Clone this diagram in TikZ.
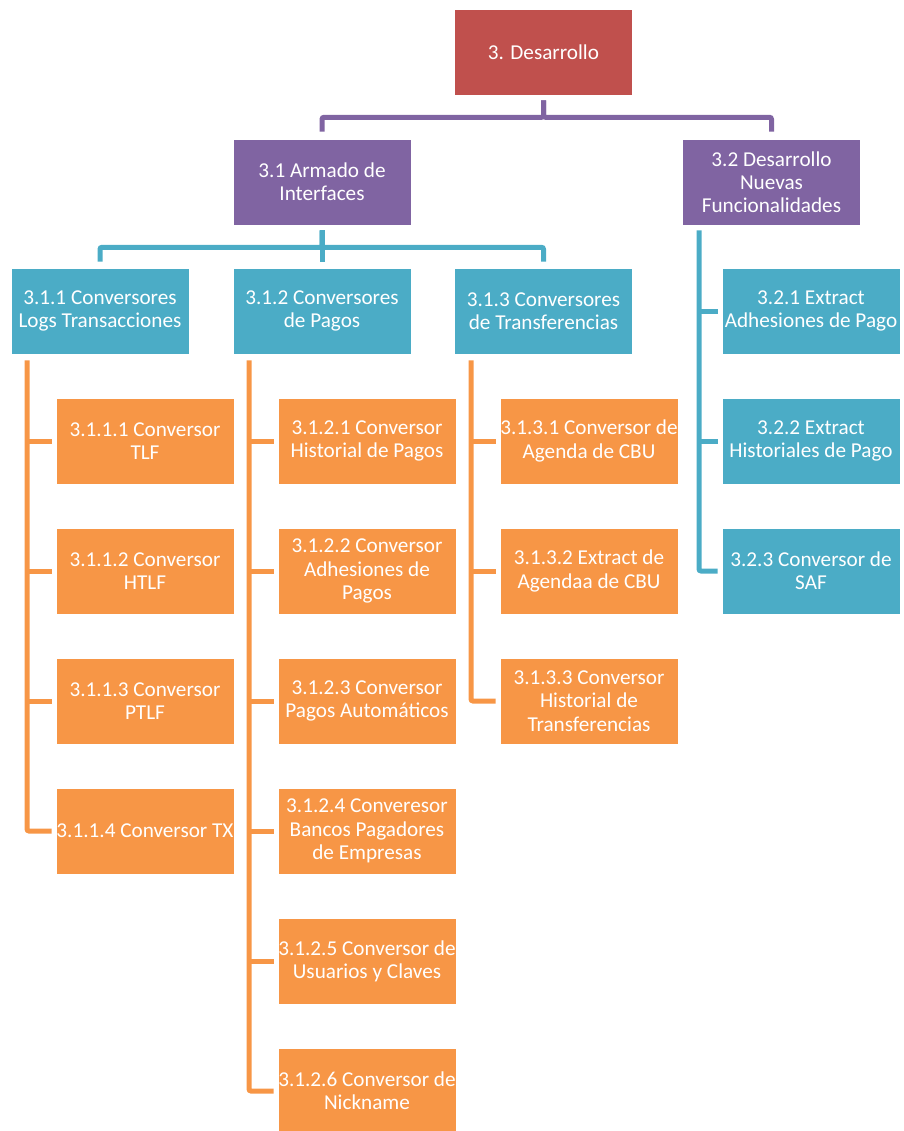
\documentclass[tikz,border=0pt]{standalone}
\usepackage{fontspec}
\setmainfont{Carlito}
\definecolor{rootred}{HTML}{C0504D}
\definecolor{lvlpurple}{HTML}{8064A2}
\definecolor{lvlblue}{HTML}{4BACC6}
\definecolor{lvlorange}{HTML}{F79646}
\begin{document}
\begin{tikzpicture}[x=1pt,y=-1pt,
  box/.style={rectangle, minimum width=178pt, minimum height=86pt, inner sep=0pt,
    align=center, text=white, draw=white, line width=0.6pt,
    font=\fontsize{21.2}{23.2}\selectfont},
  rootbox/.style={box, fill=rootred},
  pbox/.style={box, fill=lvlpurple},
  bbox/.style={box, fill=lvlblue},
  obox/.style={box, fill=lvlorange},
  link/.style={line width=5pt, rounded corners=2pt},
  plink/.style={link, draw=lvlpurple},
  blink/.style={link, draw=lvlblue},
  olink/.style={link, draw=lvlorange}]
\useasboundingbox (0,0) rectangle (903,1131);

% top level
\node[rootbox] (root) at (543.5,52) {3. Desarrollo};

% second level
\node[pbox] (n31) at (322,182) {3.1 Armado de\\Interfaces};
\node[pbox] (n32) at (771.5,182) {3.2 Desarrollo\\Nuevas\\Funcionalidades};

% third level
\node[bbox] (n311) at (100,311) {3.1.1 Conversores\\Logs Transacciones};
\node[bbox] (n312) at (322,311) {3.1.2 Conversores\\de Pagos};
\node[bbox] (n313) at (543.5,311) {3.1.3 Conversores\\de Transferencias};

\node[bbox] (n321) at (811,311) {3.2.1 Extract\\Adhesiones de Pago};
\node[bbox] (n322) at (811,441) {3.2.2 Extract\\Historiales de Pago};
\node[bbox] (n323) at (811,571) {3.2.3 Conversor de\\SAF};

% fourth level
\node[obox] (n3111) at (145,441) {3.1.1.1 Conversor\\TLF};
\node[obox] (n3112) at (145,571) {3.1.1.2 Conversor\\HTLF};
\node[obox] (n3113) at (145,701) {3.1.1.3 Conversor\\PTLF};
\node[obox] (n3114) at (145,831) {3.1.1.4 Conversor TX};

\node[obox] (n3121) at (367,441) {3.1.2.1 Conversor\\Historial de Pagos};
\node[obox] (n3122) at (367,571) {3.1.2.2 Conversor\\Adhesiones de\\Pagos};
\node[obox] (n3123) at (367,701) {3.1.2.3 Conversor\\Pagos Automáticos};
\node[obox] (n3124) at (367,831) {3.1.2.4 Converesor\\Bancos Pagadores\\de Empresas};
\node[obox] (n3125) at (367,961) {3.1.2.5 Conversor de\\Usuarios y Claves};
\node[obox] (n3126) at (367,1091) {3.1.2.6 Conversor de\\Nickname};

\node[obox] (n3131) at (589,441) {3.1.3.1 Conversor de\\Agenda de CBU};
\node[obox] (n3132) at (589,571) {3.1.3.2 Extract de\\Agendaa de CBU};
\node[obox] (n3133) at (589,701) {3.1.3.3 Conversor\\Historial de\\Transferencias};

% root to second level
\draw[plink] ([yshift=-5pt]root.south) -- ++(0,17) -| ([yshift=7pt]n31.north);
\draw[plink] ([yshift=-5pt]root.south) -- ++(0,17) -| ([yshift=7pt]n32.north);

% 3.1 to third level
\foreach \c in {n311,n312,n313}
  \draw[blink] ([yshift=-5pt]n31.south) -- ++(0,17) -| ([yshift=6pt]\c.north);

% 3.2 spine
\coordinate (s32) at ([xshift=-72.5pt,yshift=-5pt]n32.south);
\draw[blink] (s32) |- ([xshift=-4pt]n323.west);
\foreach \c in {n321,n322}
  \draw[blink] (s32 |- \c.west) -- ([xshift=-4pt]\c.west);

% 3.1.1 spine
\coordinate (s311) at ([xshift=-73pt,yshift=-6pt]n311.south);
\draw[olink] (s311) |- ([xshift=-4pt]n3114.west);
\foreach \c in {n3111,n3112,n3113}
  \draw[olink] (s311 |- \c.west) -- ([xshift=-4pt]\c.west);

% 3.1.2 spine
\coordinate (s312) at ([xshift=-73pt,yshift=-6pt]n312.south);
\draw[olink] (s312) |- ([xshift=-4pt]n3126.west);
\foreach \c in {n3121,n3122,n3123,n3124,n3125}
  \draw[olink] (s312 |- \c.west) -- ([xshift=-4pt]\c.west);

% 3.1.3 spine
\coordinate (s313) at ([xshift=-72.5pt,yshift=-6pt]n313.south);
\draw[olink] (s313) |- ([xshift=-4pt]n3133.west);
\foreach \c in {n3131,n3132}
  \draw[olink] (s313 |- \c.west) -- ([xshift=-4pt]\c.west);
\end{tikzpicture}
\end{document}
